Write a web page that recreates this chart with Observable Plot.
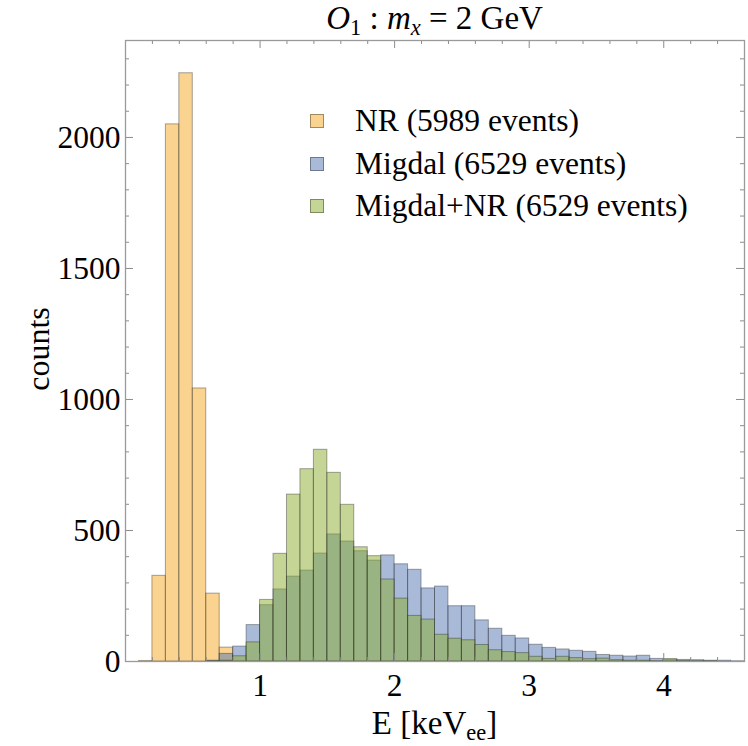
<!DOCTYPE html>
<html><head><meta charset="utf-8">
<script src="https://cdn.jsdelivr.net/npm/d3@7"></script>
<script src="https://cdn.jsdelivr.net/npm/@observablehq/plot@0.6"></script>
<style>
body{margin:0;background:#fff;}
#wrap{position:relative;width:748px;height:746px;font-family:"Liberation Serif","DejaVu Serif",serif;color:#000;}
#wrap svg{position:absolute;left:0;top:0;}
.title{position:absolute;left:125px;width:619px;top:-1px;text-align:center;font-size:33px;line-height:38px;white-space:nowrap;}
.xlab{position:absolute;left:125px;width:619px;top:704px;text-align:center;font-size:33px;line-height:38px;white-space:nowrap;}
.ylab{position:absolute;left:38px;top:349px;transform:translate(-50%,-50%) rotate(-90deg);font-size:32px;line-height:36px;white-space:nowrap;}
sub{font-size:0.68em;vertical-align:-0.25em;line-height:0;}
.legend{position:absolute;left:310px;top:100px;font-size:31.5px;}
.row{display:flex;align-items:center;height:42.5px;white-space:nowrap;}
.sw{width:14px;height:14px;margin-right:31px;box-sizing:border-box;border:1px solid rgba(0,0,0,0.35);}
</style></head><body><div id="wrap"></div><script>
// bin starts (keV), bin width 0.1
const binStart = [0.1,0.2,0.3,0.4,0.5,0.6,0.7,0.8,0.9,1.0,1.1,1.2,1.3,1.4,1.5,1.6,1.7,1.8,1.9,2.0,2.1,2.2,2.3,2.4,2.5,2.6,2.7,2.8,2.9,3.0,3.1,3.2,3.3,3.4,3.5,3.6,3.7,3.8,3.9,4.0,4.1,4.2,4.3,4.4,4.5];
const nrCounts = [2,327,2050,2245,1042,259,53,0,0,0,0,0,0,0,0,0,0,0,0,0,0,0,0,0,0,0,0,0,0,0,0,0,0,0,0,0,0,0,0,0,0,0,0,0,0];
const migdalCounts = [0,0,0,0,0,3,29,57,139,215,275,324,347,412,485,458,421,385,405,371,350,279,286,211,211,157,125,98,88,64,52,46,41,37,25,22,19,22,10,7,6,5,3,3,1];
const migdalNRCounts = [0,0,0,0,0,1,3,20,73,235,411,637,734,808,720,598,436,402,313,240,174,160,102,87,81,63,43,36,32,18,10,18,13,9,11,5,3,3,1,9,2,1,1,0,0];
const seriesNames = ["NR (5989 events)", "Migdal (6529 events)", "Migdal+NR (6529 events)"];
const seriesColors = ["rgb(243,167,31)", "rgb(81,117,177)", "rgb(139,171,43)"];
const xMajor = [1,2,3,4];
const xMinor = [0.2,0.4,0.6,0.8,1.2,1.4,1.6,1.8,2.2,2.4,2.6,2.8,3.2,3.4,3.6,3.8,4.2,4.4];
const yMajor = [0,500,1000,1500,2000];
const yMinor = [100,200,300,400,600,700,800,900,1100,1200,1300,1400,1600,1700,1800,1900,2100,2200,2300];
const binWidth = 0.1;

const W = 748, H = 746, mL = 125, mR = 4, mT = 40, mB = 85;
const pw = W - mL - mR, ph = H - mT - mB;

const seriesCounts = [nrCounts, migdalCounts, migdalNRCounts];
const barMarks = seriesCounts.map((counts, i) => {
  const rows = binStart.map((b, j) => ({x1: b, x2: b + binWidth, y: counts[j]})).filter(d => d.y > 0);
  return Plot.rectY(rows, {x1: "x1", x2: "x2", y: "y", fill: seriesColors[i], fillOpacity: 0.5,
    stroke: "rgb(40,40,40)", strokeOpacity: 0.4, strokeWidth: 1});
});

const tickColor = "#8c8c8c";
const chart = Plot.plot({
  width: W, height: H,
  marginLeft: mL, marginRight: mR, marginTop: mT, marginBottom: mB,
  style: {fontFamily: "Liberation Serif, DejaVu Serif, serif", fontSize: "31.5px", color: "black", background: "white", overflow: "visible"},
  x: {domain: [0, 4.6]},
  y: {domain: [0, 2370]},
  marks: [
    ...barMarks,
    Plot.ruleX(xMajor, {x: d => d, stroke: tickColor, strokeWidth: 1, insetTop: ph - 8}),
    Plot.ruleX(xMinor, {x: d => d, stroke: tickColor, strokeWidth: 1, insetTop: ph - 4}),
    Plot.ruleX(xMajor, {x: d => d, stroke: tickColor, strokeWidth: 1, insetBottom: ph - 8}),
    Plot.ruleX(xMinor, {x: d => d, stroke: tickColor, strokeWidth: 1, insetBottom: ph - 4}),
    Plot.ruleY(yMajor, {y: d => d, stroke: tickColor, strokeWidth: 1, insetRight: pw - 8}),
    Plot.ruleY(yMinor, {y: d => d, stroke: tickColor, strokeWidth: 1, insetRight: pw - 4}),
    Plot.ruleY(yMajor, {y: d => d, stroke: tickColor, strokeWidth: 1, insetLeft: pw - 8}),
    Plot.ruleY(yMinor, {y: d => d, stroke: tickColor, strokeWidth: 1, insetLeft: pw - 4}),
    Plot.frame({stroke: "#9a9a9a", strokeWidth: 1.3}),
    Plot.axisX(xMajor, {tickSize: 0, tickPadding: 12, label: null, fontSize: 31.5, tickFormat: d => String(d)}),
    Plot.axisY(yMajor, {tickSize: 0, tickPadding: 5, label: null, fontSize: 31.5, tickFormat: d => String(d)})
  ]
});

const wrap = document.getElementById("wrap");
wrap.appendChild(chart);
d3.select(chart).selectAll("text").style("font-family", '"Liberation Serif", serif').style("font-size", "31.5px");

const title = document.createElement("div");
title.className = "title";
title.innerHTML = '<i>O</i><sub>1</sub> : <i>m</i><sub><i>x</i></sub> = 2 GeV';
wrap.appendChild(title);

const xlab = document.createElement("div");
xlab.className = "xlab";
xlab.innerHTML = 'E [keV<sub>ee</sub>]';
wrap.appendChild(xlab);

const ylab = document.createElement("div");
ylab.className = "ylab";
ylab.textContent = "counts";
wrap.appendChild(ylab);

const legend = document.createElement("div");
legend.className = "legend";
seriesNames.forEach((name, i) => {
  const row = document.createElement("div");
  row.className = "row";
  const sw = document.createElement("div");
  sw.className = "sw";
  sw.style.background = seriesColors[i].replace("rgb(", "rgba(").replace(")", ",0.5)");
  const t = document.createElement("span");
  t.textContent = name;
  row.appendChild(sw); row.appendChild(t);
  legend.appendChild(row);
});
wrap.appendChild(legend);
</script></body></html>
